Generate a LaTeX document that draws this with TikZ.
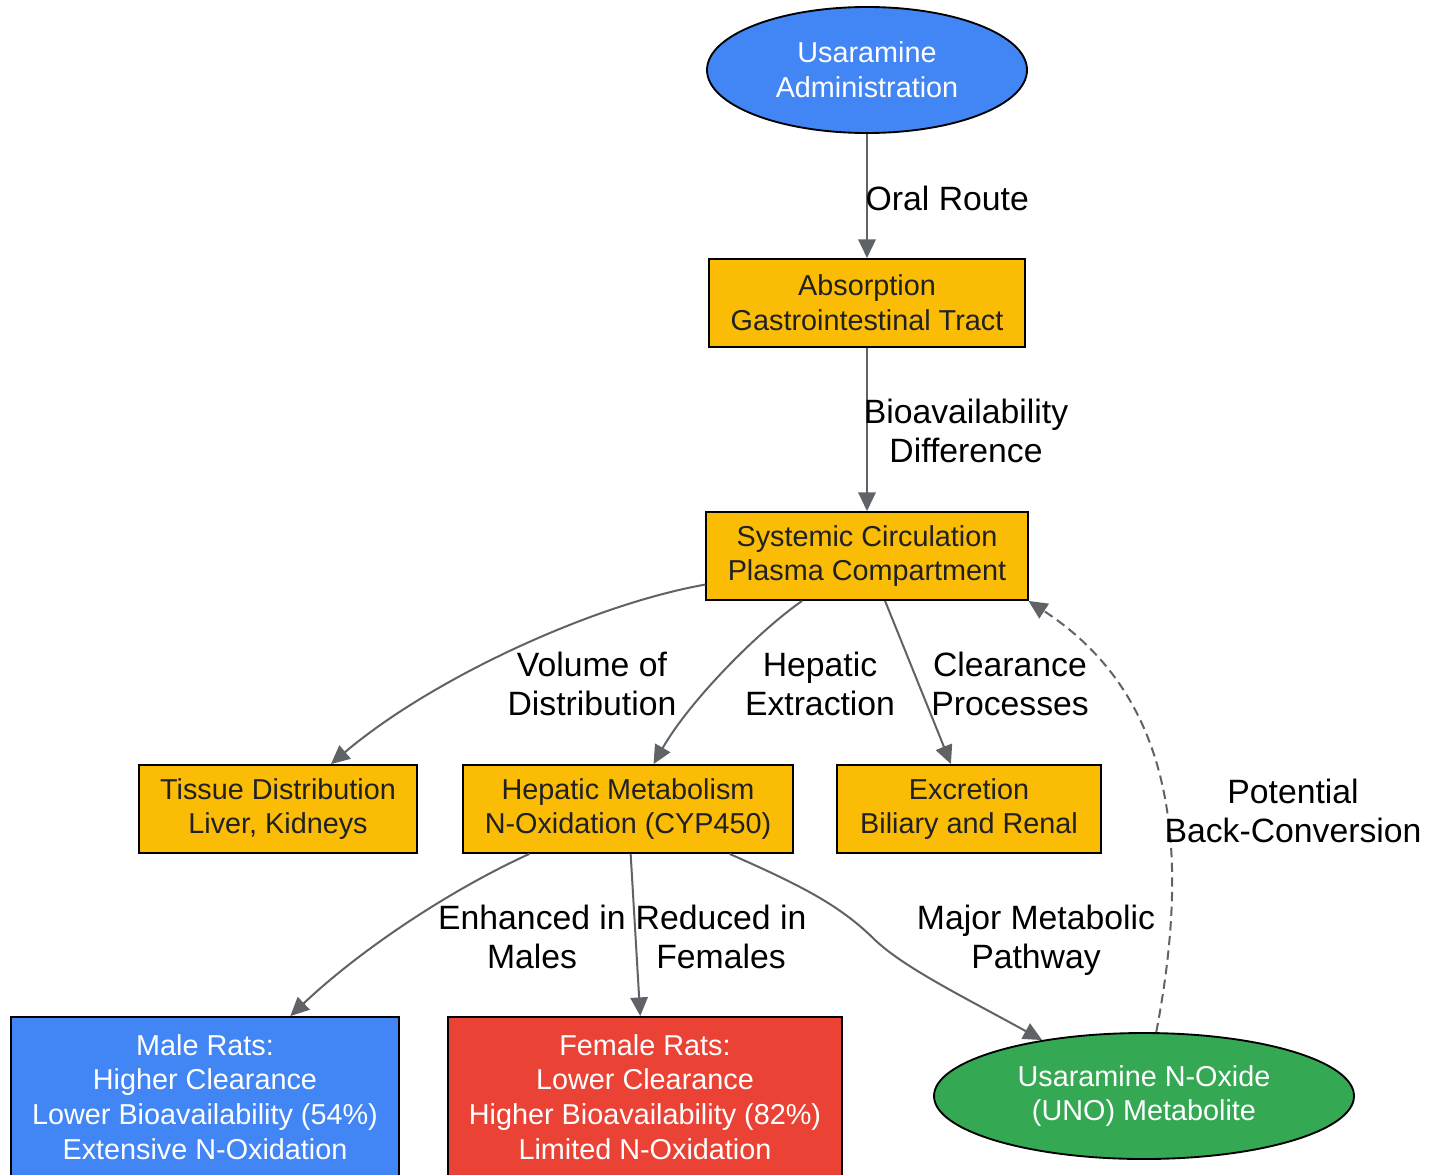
\documentclass[tikz,border=0pt]{standalone}
\usepackage{fontspec}
\setmainfont{Liberation Sans}
\usetikzlibrary{shapes.geometric,arrows.meta}
\definecolor{gblue}{HTML}{4285F4}
\definecolor{gyellow}{HTML}{FBBC05}
\definecolor{gred}{HTML}{EA4335}
\definecolor{ggreen}{HTML}{34A853}
\definecolor{ggrey}{HTML}{5F6368}
\definecolor{gtext}{HTML}{202124}

\begin{document}
\begin{tikzpicture}[x=0.75pt, y=-0.75pt,
    box/.style={draw=black, line width=1.4pt, rectangle, align=center, inner xsep=16pt,
        minimum height=66pt, font=\fontsize{21.6}{26}\selectfont},
    stepbox/.style={box, fill=gyellow, text=gtext},
    ratbox/.style={box, minimum height=120pt, text=white},
    oval/.style={draw=black, line width=1.4pt, ellipse, align=center, minimum height=94.5pt,
        text=white, font=\fontsize{21.6}{26}\selectfont},
    edge/.style={draw=ggrey, line width=1.5pt, -{Triangle[length=14pt, width=13pt]}},
    lbl/.style={align=center, font=\fontsize{25.3}{29}\selectfont}]
        \useasboundingbox (0,0) rectangle (1441,1174);
        % nodes
        \node[oval, fill=gblue, minimum width=240pt] (adm) at (867,70) {Usaramine\\Administration};
        \node[stepbox] (abs) at (867,303) {Absorption\\Gastrointestinal Tract};
        \node[stepbox] (sys) at (867,556) {Systemic Circulation\\Plasma Compartment};
        \node[stepbox] (tis) at (278,809) {Tissue Distribution\\Liver, Kidneys};
        \node[stepbox] (hep) at (628,809) {Hepatic Metabolism\\N-Oxidation (CYP450)};
        \node[stepbox, minimum width=198pt] (exc) at (969,809) {Excretion\\Biliary and Renal};
        \node[ratbox, fill=gblue] (male) at (205,1097) {Male Rats:\\Higher Clearance\\Lower Bioavailability (54\%)\\Extensive N-Oxidation};
        \node[ratbox, fill=gred] (female) at (645,1097) {Female Rats:\\Lower Clearance\\Higher Bioavailability (82\%)\\Limited N-Oxidation};
        \node[oval, fill=ggreen, minimum width=315pt] (uno) at (1144,1096) {Usaramine N-Oxide\\(UNO) Metabolite};
        % edges
        \draw[edge] (adm) -- (abs);
        \draw[edge] (abs) -- (sys);
        \draw[edge] (sys) .. controls (590,605) and (430,680) .. (tis);
        \draw[edge] (sys) .. controls (760,630) and (690,700) .. (hep);
        \draw[edge] (sys) -- (exc);
        \draw[edge, dashed, dash pattern=on 7pt off 4pt] (uno) .. controls (1195,830) and (1165,690) .. (sys.south east);
        \draw[edge] (hep) .. controls (450,890) and (360,950) .. (male);
        \draw[edge] (hep) -- (female);
        \draw[edge] (hep) .. controls (800,885) and (840,905) .. (875,940) .. controls (905,968) and (960,995) .. (uno);
        % edge labels
        \node[lbl, anchor=west] (lOral) at (861,198) {Oral Route};
        \node[lbl] (lBio) at (966,431) {Bioavailability\\Difference};
        \node[lbl] (lVol) at (592,684) {Volume of\\Distribution};
        \node[lbl] (lHep) at (820,684) {Hepatic\\Extraction};
        \node[lbl] (lClr) at (1010,684) {Clearance\\Processes};
        \node[lbl] (lBack) at (1293,811) {Potential\\Back-Conversion};
        \node[lbl] (lMale) at (532,937) {Enhanced in\\Males};
        \node[lbl] (lFem) at (721,937) {Reduced in\\Females};
        \node[lbl] (lMaj) at (1036,940) {Major Metabolic\\Pathway};
    \end{tikzpicture}
\end{document}
